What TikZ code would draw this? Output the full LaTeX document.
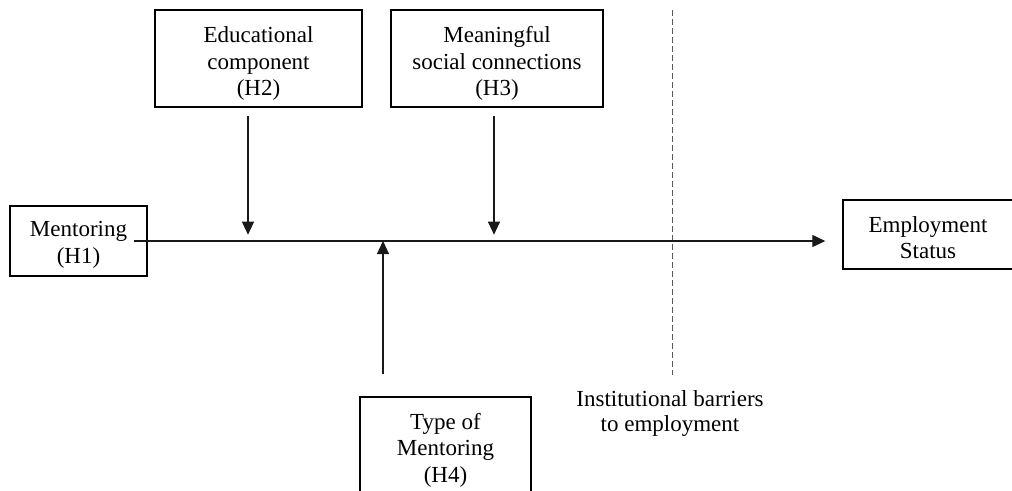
\documentclass[tikz,border=0pt]{standalone}
\usepackage{fontspec}
\setmainfont{Liberation Serif}
\usetikzlibrary{arrows.meta}
% invisible strut that lowers a box's first line
\newcommand\topgap[1]{\rule{0pt}{#1}}
\begin{document}
\begin{tikzpicture}[x=1pt,y=-1pt,
  txt/.style={align=center, inner sep=0pt, font=\fontsize{23}{26.5}\selectfont},
  box/.style={txt, draw=black, line width=1.4pt},
  arr/.style={draw=black!90, line width=1.1pt, -{Triangle[length=13pt,width=12pt]}},
  barrier/.style={draw=black!65, line width=1pt, dash pattern=on 6pt off 3pt}]
\clip (0,0) rectangle (1012,490);
% boxes
\node[box, minimum width=137pt, minimum height=70pt] (m) at (78.5,241) {\topgap{23pt}Mentoring\\(H1)};
\node[box, minimum width=170pt, minimum height=69pt] (e) at (928,234.5) {\topgap{22pt}Employment\\Status};
\node[box, minimum width=207pt, minimum height=97pt] (ed) at (258.5,58.5) {\topgap{26pt}Educational\\component\\(H2)};
\node[box, minimum width=212pt, minimum height=97pt] (mc) at (497,58.5) {\topgap{26pt}Meaningful\\social connections\\(H3)};
\node[box, minimum width=171pt, minimum height=106pt] (tm) at (445.5,450) {Type of\\Mentoring\\(H4)};
% barrier
\coordinate (d1) at (672,10);
\coordinate (d2) at (672,375);
\draw[barrier] (d1) -- (d2);
\node[txt] (ib) at (670,413.5) {Institutional barriers\\[-1.5pt]to employment};
% main path
\draw[arr] ([xshift=55.5pt]m.center) -- ([xshift=-17pt]e.west |- m.center);
% moderators
\draw[arr] ([xshift=-10.5pt,yshift=-8pt]ed.south) -- ++(0,119);
\draw[arr] ([xshift=-3pt,yshift=-8pt]mc.south) -- ++(0,119);
\coordinate (h4) at ([xshift=-62.5pt,yshift=22pt]tm.north);
\draw[arr] (h4) -- (h4 |- m.center);
\end{tikzpicture}
\end{document}
